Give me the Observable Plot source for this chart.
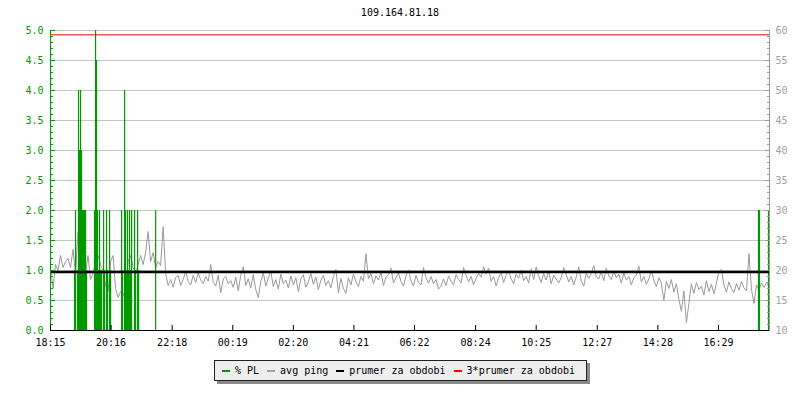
<!DOCTYPE html>
<html>
<head>
<meta charset="utf-8">
<script src="https://cdn.jsdelivr.net/npm/d3@7"></script>
<script src="https://cdn.jsdelivr.net/npm/@observablehq/plot@0.6"></script>
<style>
  html, body { margin: 0; padding: 0; background: #ffffff; }
  body { width: 800px; height: 400px; overflow: hidden; font-family: "DejaVu Sans Mono", monospace; font-size: 10px; }
  #title { height: 22px; box-sizing: border-box; padding-top: 5px; line-height: 16px; text-align: center; color: #000; }
  #chart svg { display: block; }
  #legend { margin-left: 214px; margin-top: 10px; width: 364px; height: 19px; background: #eeeeee; border: 1px solid #222;
            box-shadow: 3px 3px 0 #8a8a8a; display: flex; align-items: center; padding-left: 7px; box-sizing: content-box; }
  #legend .sw { display: inline-block; width: 8px; height: 2px; margin-right: 5px; }
  #legend .lb { margin-right: 8px; white-space: pre; color: #000; }
</style>
</head>
<body>
<div id="title"></div>
<div id="chart"></div>
<div id="legend"></div>
<script>
// ---- data ----
const chartTitle = "109.164.81.18";

// time axis: minutes since 18:15
const xTickMinutes = [0, 121, 243, 364, 485, 606, 727, 849, 970, 1092, 1213, 1334];
const xTickLabels = ["18:15", "20:16", "22:18", "00:19", "02:20", "04:21", "06:22", "08:24", "10:25", "12:27", "14:28", "16:29"];

// avg ping (ms), one sample every 5 minutes from 18:15
const pingStepMinutes = 5;
const pingMs = [
  20.5, 17.0, 21.0, 20.0, 22.5, 20.5, 21.5, 22.0, 20.5, 23.5, 19.5, 26.4, 21.0, 25.5, 19.5, 22.5,
  18.5, 19.5, 21.5, 22.5, 21.0, 20.0, 17.5, 16.5, 21.5, 22.5, 17.0, 15.5, 16.5, 15.8, 17.0, 21.5,
  22.5, 20.5, 19.5, 21.0, 22.5, 21.0, 23.0, 26.5, 21.5, 23.0, 20.5, 21.5, 20.8, 27.3, 19.5, 17.5,
  18.5, 17.2, 18.8, 19.2, 17.5, 18.5, 19.8, 18.2, 17.6, 19.2, 18.0, 19.6, 18.4, 17.8, 19.0, 18.2,
  21.0, 18.0, 17.4, 19.2, 16.3, 18.6, 19.0, 17.8,
  18.3, 17.2, 18.9, 16.6, 19.2, 20.6, 17.5, 18.6, 17.1, 19.3, 16.8, 15.5, 18.2, 19.6, 17.4, 18.8,
  19.9, 17.3, 18.5, 16.9, 19.4, 17.8, 18.4, 17.1, 19.1, 17.6, 18.8, 16.5, 18.6, 19.3, 17.2, 18.1,
  19.5, 17.7, 18.9, 16.8, 18.4, 19.2, 17.5, 18.3, 17.1, 19.0, 20.2, 16.3, 18.7, 17.0, 16.2, 18.8,
  17.6, 19.4, 18.1, 17.3, 19.0, 18.2, 22.8, 18.6, 19.5, 17.8, 19.1, 18.4, 19.7, 17.5, 18.9, 19.3,
  20.4, 17.9, 18.8, 19.6, 18.2, 17.4, 19.1, 20.1,
  18.3, 17.4, 19.2, 18.0, 17.6, 20.5, 18.8, 17.9, 19.0, 17.8, 18.5, 16.9, 17.4, 18.6, 17.5, 19.1,
  18.2, 17.6, 19.3, 18.5, 17.9, 20.5, 19.2, 18.1, 19.0, 17.6, 18.7, 19.5, 18.9, 20.6, 19.4, 20.4,
  18.2, 19.0, 17.4, 18.8, 19.6, 18.0, 19.2, 20.0, 18.6, 17.8, 19.4, 18.7, 20.1, 18.3, 19.0, 17.9,
  20.3, 18.5, 20.6, 19.1, 18.0, 19.5, 18.4, 19.9, 17.8, 19.2, 18.6, 17.9, 18.8, 20.5, 19.3, 18.1,
  19.0, 17.6, 18.9, 20.6, 18.3, 17.4, 19.5, 18.7,
  19.5, 20.8, 19.0, 18.6, 19.8, 18.3, 20.4, 19.1, 18.5, 19.9, 18.8, 19.4, 17.9, 19.6, 18.4, 19.0,
  17.6, 18.8, 19.2, 20.7, 18.1, 19.0, 17.7, 18.6, 20.0, 18.4, 17.3, 18.8, 17.9, 15.0, 18.2, 17.0,
  18.5, 16.4, 17.8, 15.2, 13.2, 16.6, 11.3, 14.5, 17.8, 16.2, 18.0, 16.8, 17.4, 15.9, 18.3, 16.5,
  17.7, 16.1, 17.9, 19.8, 20.2, 17.6, 16.4, 18.1, 17.0, 16.3, 17.8, 16.7, 18.2, 17.1, 16.6, 22.8,
  16.9, 14.5, 17.6, 16.8, 17.9, 17.2, 18.0, 17.3
];

// packet loss (%) events: minute since 18:15 and value
const plMinutes = [48, 50, 54, 56, 58, 60, 62, 64, 66, 68, 70, 72, 88, 90, 92, 94, 96, 98, 100, 102, 106, 108, 112, 114, 118, 120,
                   142, 144, 148, 150, 152, 154, 156, 158, 160, 162, 168, 170, 174, 176, 210, 1414, 1416, 1434];
const plPercent = [1, 2, 1, 4, 3, 4, 3, 2, 2, 2, 2, 1, 2, 5, 4.5, 2, 1, 2, 1, 1, 2, 1, 2, 1, 2, 1,
                   2, 1, 4, 2, 1, 2, 1, 2, 1, 2, 2, 1, 2, 1, 2, 2, 2, 2];

const avgPingMs = 19.76;           // "prumer za obdobi"
const pingAxisMin = 10, pingAxisMax = 60;
const plAxisMax = 5;

const legendItems = ["% PL", "avg ping", "prumer za obdobi", "3*prumer za obdobi"];
const legendColors = ["#009900", "#a0a0a0", "#000000", "#ff0000"];

// ---- build ----
const GREEN = "#009900", GRAY = "#999999";
const pingToLeft = p => (p - pingAxisMin) / (pingAxisMax - pingAxisMin) * plAxisMax;
const pingData = pingMs.map((p, i) => ({t: i * pingStepMinutes, v: pingToLeft(p)}));
const plData = plMinutes.map((m, i) => ({t: m, v: plPercent[i]}));
const majorY = d3.range(0, 5.001, 0.5);
const minorY = d3.range(0, 51).map(k => k / 10);

document.getElementById("title").textContent = chartTitle;

const plot = Plot.plot({
  width: 800, height: 328,
  marginTop: 8, marginBottom: 20, marginLeft: 50, marginRight: 31,
  x: {domain: [0, 1436], axis: null},
  y: {domain: [0, plAxisMax], axis: null},
  style: {fontFamily: "DejaVu Sans Mono", fontSize: "10px", background: "#ffffff"},
  marks: [
    Plot.ruleY(majorY.filter(d => d > 0), {stroke: "#c4c4c4", strokeWidth: 1}),
    Plot.line(pingData, {x: "t", y: "v", stroke: GRAY, strokeWidth: 1}),
    Plot.ruleX(plData, {x: "t", y1: 0, y2: "v", stroke: GREEN, strokeWidth: 1.2}),
    Plot.ruleY([pingToLeft(avgPingMs)], {stroke: "#000", strokeWidth: 2.4}),
    Plot.ruleY([pingToLeft(3 * avgPingMs)], {stroke: "#ff0000", strokeWidth: 1}),
    // left axis (PL %)
    Plot.axisY({anchor: "left", ticks: minorY, tickSize: -3, tickFormat: () => "", stroke: GREEN, label: null}),
    Plot.axisY({anchor: "left", ticks: majorY, tickSize: -5, tickFormat: () => "", stroke: GREEN, label: null}),
    Plot.axisY({anchor: "left", ticks: majorY, tickSize: 0, tickPadding: 7, tickFormat: d => d.toFixed(1), fill: GREEN, label: null}),
    Plot.ruleX([0], {stroke: GREEN, strokeWidth: 1}),
    // right axis (ping ms)
    Plot.axisY({anchor: "right", ticks: minorY, tickSize: -3, tickFormat: () => "", stroke: GRAY, label: null}),
    Plot.axisY({anchor: "right", ticks: majorY, tickSize: -5, tickFormat: () => "", stroke: GRAY, label: null}),
    Plot.axisY({anchor: "right", ticks: majorY, tickSize: 0, tickPadding: 6, fill: "#a0a0a0", label: null,
                tickFormat: d => String(Math.round(pingAxisMin + d / plAxisMax * (pingAxisMax - pingAxisMin)))}),
    Plot.ruleX([1436], {stroke: GRAY, strokeWidth: 1}),
    // bottom axis (time)
    Plot.ruleY([0], {stroke: "#000", strokeWidth: 1}),
    Plot.axisX({anchor: "bottom", ticks: xTickMinutes, tickSize: -5, tickFormat: () => "", stroke: "#000", label: null}),
    Plot.axisX({anchor: "bottom", ticks: xTickMinutes, tickSize: 0, tickPadding: 8, fill: "#000", label: null,
                tickFormat: d => xTickLabels[xTickMinutes.indexOf(d)]})
  ]
});
document.getElementById("chart").appendChild(plot);

const legend = document.getElementById("legend");
legendItems.forEach((name, i) => {
  const sw = document.createElement("span");
  sw.className = "sw";
  sw.style.background = legendColors[i];
  const lb = document.createElement("span");
  lb.className = "lb";
  lb.textContent = name;
  legend.appendChild(sw);
  legend.appendChild(lb);
});
</script>
</body>
</html>
